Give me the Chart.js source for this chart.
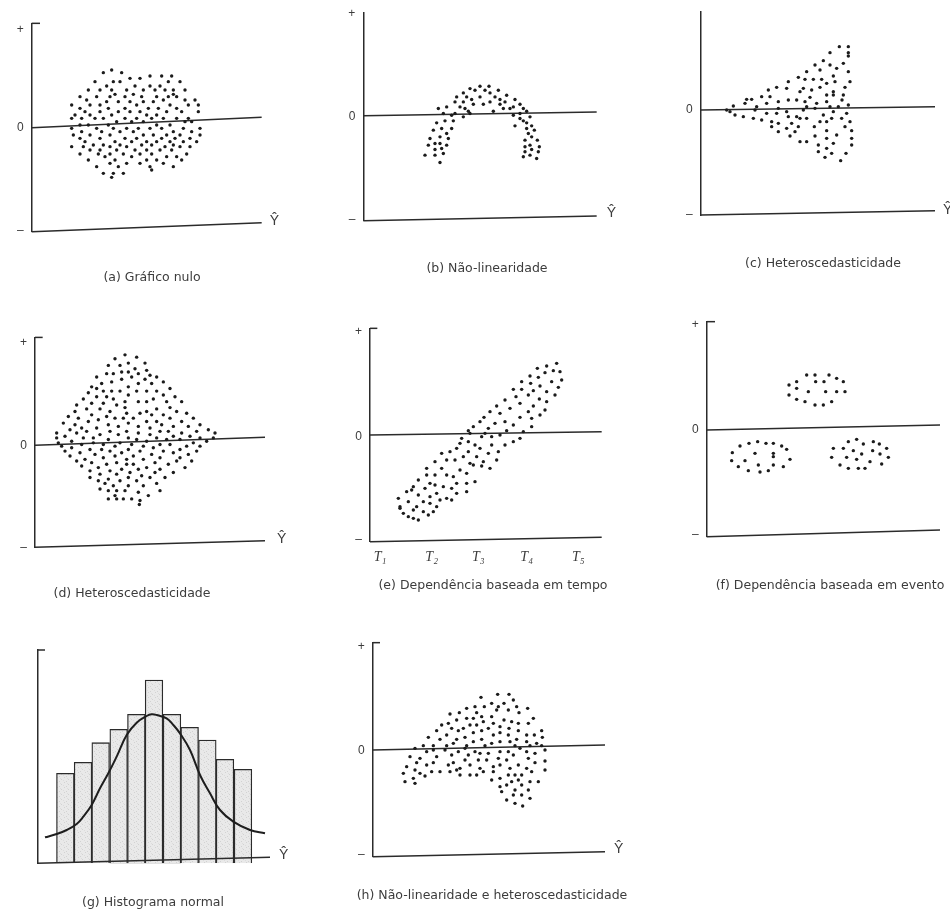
<!DOCTYPE html>
<html><head><meta charset="utf-8">
<script src="https://cdn.jsdelivr.net/npm/chart.js@4.4.0/dist/chart.umd.min.js"></script>
<style>
html,body{margin:0;padding:0;background:#fff;width:950px;height:917px;overflow:hidden;position:relative}
canvas{position:absolute}
</style></head><body>
<script>
// ---------- DATA (figure units; each row = [residual level, [Ŷ positions]]) ----------
const nullPlotRows = [
[210,[335]],[218,[310,365]],[228,[450,485,515]],[235,[390,420]],[245,[285,340,360,505,540]],
[258,[320,405,450,480]],[270,[265,300,335,380,430,465,495,520,555]],[283,[345,400,520]],
[290,[240,290,330,375,425,470,505,530]],[300,[260,490,555,585]],[305,[320,355,390,430,460]],
[315,[215,270,300,410,510,565,595]],[325,[240,325,375,445,475,530]],[335,[255,300,355,390,420,500,545,595]],
[345,[225,270,335,440,470]],[355,[215,245,285,310,375,410,455,490,530,565]],[365,[350,395,430,555,575]],
[375,[240,265,325,470,510]],[385,[215,290,340,380,415,450,485,550,600]],[395,[245,305,360,400,520,575]],
[405,[220,270,330,430,460,500,540,600]],[415,[240,300,375,410,485,525,570]],[425,[255,345,395,440,470,510,550,590]],
[435,[280,310,360,425,455,520]],[440,[215,250,330,380,495,540,570]],[450,[270,300,350,405,440,480,515]],
[462,[240,295,330,370,420,455,560]],[470,[315,395,500,530]],[480,[265,345,440,470,545]],
[490,[330,380,420,490]],[500,[290,355,450,520]],[510,[455]],[520,[310,340,370]],[532,[335]]
];
const nonLinearRows = [
[258,[540,567]],[265,[510]],[270,[525,555,595]],[278,[490,570]],[285,[620]],[290,[470,500,540,585]],
[298,[515,600,645]],[305,[465,490,570,615]],[312,[520,550,600,660]],[320,[440,480,640]],
[325,[415,495,610,630,670]],[333,[505,580,680]],[340,[430,465,510,660]],[345,[455,640]],[350,[490,690]],
[355,[660]],[362,[435,460,670]],[368,[410,680]],[377,[645,695]],[385,[425,455,680]],[390,[400,703]],
[400,[440,685]],[410,[420,695]],[415,[390,445]],[420,[675,712]],[430,[405,420]],[435,[385,440,690]],
[440,[675,718]],[445,[425]],[448,[405,695]],[455,[675,715]],[460,[430]],[465,[375,405,690]],
[470,[670]],[475,[710]],[487,[420]]
];
const fanRows = [
[140,[628,655]],[158,[600,655]],[168,[655]],[182,[580]],[190,[640]],[195,[555,600]],[205,[620]],
[210,[570]],[215,[530,655]],[228,[610]],[232,[505]],[238,[525,550,575]],[245,[475,615,660]],[250,[590]],
[262,[440,570,645]],[265,[470,520]],[270,[415,545]],[275,[510,610]],[285,[590,610,640]],[290,[395,420]],
[292,[540]],[298,[350,365]],[300,[475,500,636]],[305,[445,525,590]],[310,[345,410,560]],[315,[655]],
[318,[310]],[320,[380,530,600,625]],[325,[445,555]],[330,[290,375,520]],[335,[300,470,610]],
[340,[410,440,650]],[345,[315,580]],[350,[340,475,500]],[355,[370,510,530,605,635]],[360,[395]],
[365,[425,570,590,660]],[370,[445,485]],[380,[425,505,553,645]],[385,[470]],[392,[590,665]],
[395,[445,495]],[405,[620]],[408,[480,555]],[415,[590,665]],[425,[510,530]],[430,[610]],
[435,[565,665]],[445,[590]],[455,[565]],[460,[605,648]],[472,[585]],[482,[632]]
];
const diamondRows = [
[158,[375]],[165,[410]],[170,[345]],[183,[385,435]],[190,[325,360]],[200,[405]],[205,[440]],
[210,[365,385]],[215,[320,340,415]],[220,[450]],[225,[290,395,470]],[232,[365,435]],[240,[335,490]],
[245,[305,415,455]],[255,[275,385]],[260,[290,510]],[268,[310,335,360,410,440,470]],[273,[265]],
[280,[385,490]],[285,[290,320,525]],[292,[250,340,460]],[300,[375,415,440,500,545]],[305,[275,310]],
[310,[230,350]],[318,[375,510]],[322,[260,300,470]],[330,[225,330,440,530]],[335,[380,420,560]],
[340,[275,455,490]],[345,[205,320]],[350,[235,345,370,400,510,580]],[355,[295]],[360,[265,440,470,545]],
[365,[190,385]],[370,[225,325,485,600]],[375,[355,415,520,565]],[380,[245,290,450]],[385,[210,625]],
[390,[260,330,380,480,505,590]],[395,[170,230,415,545,645]],[400,[300,355,450]],[405,[195,520,570]],
[410,[170,250,280,385,470,600,640]],[415,[325,410,500,540]],[420,[215,440,620]],[425,[175,280,360,580]],
[430,[245,310,395,480,510]],[435,[185,345,430,560,600]],[440,[215,460]],[445,[270,305,385,540]],
[450,[195,330,420,490,590]],[455,[240,365,520]],[460,[285,455,565]],[465,[210,345,400]],
[470,[310,480,540]],[475,[255,380,430]],[480,[230,530,575]],[485,[275,350,465]],[490,[320,380,400,505]],
[495,[245]],[500,[295,440,555]],[505,[365,415,480]],[510,[270,330]],[515,[390,465,520]],[520,[300,350]],
[525,[425]],[530,[270,385,450,495]],[535,[325]],[540,[295,360,410]],[548,[315,470]],[555,[340,385,430]],
[565,[300]],[570,[325,350,375,480]],[575,[415]],[585,[345,445]],[595,[325,350,370,395]],[600,[420]],[612,[418]]
];
const timeRows = [
[190,[770]],[198,[740]],[205,[712]],[212,[760]],[215,[780]],[218,[735]],[228,[690]],[232,[715]],
[240,[785]],[245,[665,755]],[250,[692]],[258,[720]],[262,[775]],[268,[640,665]],[272,[700]],[275,[740]],
[285,[685,765]],[290,[648]],[297,[718]],[300,[615]],[305,[740]],[310,[660]],[318,[590,700]],[325,[630]],
[330,[735]],[335,[570,685]],[340,[600]],[345,[720]],[352,[552,660]],[355,[695]],[365,[540,615]],
[370,[585]],[375,[640]],[380,[520,695]],[385,[565]],[392,[505,620]],[395,[670]],[400,[510,555]],
[405,[600]],[410,[545,575]],[415,[485,660]],[425,[505,640]],[430,[480]],[435,[525,575,615]],
[445,[470,540]],[455,[450,505,595]],[460,[425,565]],[470,[490,530]],[480,[440,465,590]],[485,[405,550]],
[490,[510]],[495,[520]],[498,[545]],[505,[380,425,570]],[510,[480]],[520,[500]],[525,[380,405,440]],
[530,[460]],[540,[355]],[545,[525]],[550,[390,470,500]],[555,[405]],[560,[340,430]],[565,[375,455]],
[570,[335]],[575,[320,500]],[580,[410,470]],[585,[355]],[590,[390]],[595,[295,440]],[600,[420,455]],
[605,[325,370]],[610,[390]],[620,[300,350,410]],[625,[300]],[630,[340]],[635,[370,400]],[640,[310]],
[645,[385]],[650,[325]],[655,[340]],[660,[355]]
];
const eventRows = [
[225,[530,555,597]],[235,[620]],[245,[500,557,582,640]],[255,[477]],[265,[500]],[275,[535,587,620,645]],
[285,[477]],[298,[500]],[305,[525,605]],[315,[555,580]],
[418,[680]],[425,[383,655,730]],[430,[357,408,430]],[432,[700,748]],[438,[330,455]],[445,[610,640,770]],
[448,[470]],[452,[670,728]],[458,[307]],[460,[375,430]],[462,[695,750]],[470,[430]],[472,[605,650,775]],
[478,[480,680]],[482,[305,345]],[485,[720]],[492,[755]],[495,[385,430,630]],[500,[325,460]],
[505,[655,685,705]],[512,[355,415]],[516,[390]]
];
const mixedRows = [
[283,[593,627]],[292,[543]],[300,[640]],[310,[575,612]],[320,[525,553,595,650]],[325,[500,683]],
[330,[590,625]],[338,[478,530,657]],[342,[450]],[350,[545,575]],[355,[500,520,700]],[360,[470,612]],
[365,[550,635]],[370,[445,580,655,685]],[375,[425,510,530]],[380,[600]],[385,[455,490,565,627]],
[392,[410,475,545,655,725]],[398,[520,600]],[405,[440,580,625,680,703]],[412,[385,495,727]],
[418,[420,470,545,650]],[425,[520,600,630,680]],[430,[460,575,710]],[437,[370,400,440,500,555,645,690,725]],
[445,[345,495,660]],[450,[400,435,735]],[455,[380,475,525,600,625,680]],[460,[540,565,705]],
[465,[455,505,640]],[470,[330,410]],[475,[360,595,685]],[480,[495,535,560,620]],[483,[735]],
[488,[350,400,460,705]],[495,[380,445,510,600,655]],[500,[320,580]],[505,[480,540,630,680]],
[510,[345,470,735]],[515,[395,420,450,550,580,695]],[520,[310,360]],[525,[480,510,530,625,645,665]],
[528,[375]],[535,[340,600]],[540,[575,655]],[545,[315,635,690,715]],[550,[345]],[555,[620,665]],
[560,[600]],[570,[645,685]],[575,[605]],[585,[640,665]],[595,[690]],[600,[620]],[610,[645]],[618,[668]]
];
// histogram (g)
const binCenters = [196,249,302,356,409,462,516,569,622,675,729];
const binHeights = [270,303,362,402,447,550,447,408,370,312,282];
const curveX = [135,170,200,230,250,275,300,325,350,380,410,440,455,470,500,520,540,570,600,630,660,700,750,795];
const curveY = [78,88,100,118,140,175,225,270,320,385,422,442,447,445,435,415,390,340,265,210,160,125,100,90];
// time ticks (e)
const timeTickPos = [240,395,535,680,835];
const timeTickLabels = ['T\u2081','T\u2082','T\u2083','T\u2084','T\u2085'];
// reference lines (zero line, baseline, top tick)
const zeroA = [[95,383],[785,352]], baseA = [[95,695],[785,668]], capA = [[95,70],[120,70]];
const zeroB = [[190,347],[890,335]], baseB = [[190,662],[890,648]];
const zeroC = [[212,330],[915,320]], baseC = [[212,645],[915,632]];
const zeroD = [[105,432],[795,408]], baseD = [[105,742],[795,722]], capD = [[105,105],[128,105]];
const zeroE = [[210,405],[905,395]], baseE = [[210,725],[905,712]], capE = [[210,85],[232,85]];
const zeroF = [[230,390],[930,375]], baseF = [[230,710],[930,690]], capF = [[230,65],[255,65]];
const baseG = [[112,0],[810,18]], capG = [[112,640],[135,640]];
const zeroH = [[218,450],[915,435]], baseH = [[218,770],[915,755]], capH = [[218,128],[240,128]];

// ---------- RENDERING ----------
const FONT = "'Liberation Sans', Arial, Helvetica, sans-serif";
const CAP_FONT = "'DejaVu Sans', Verdana, sans-serif";
const INK = '#2b2b2b';
const TXT = '#3c3c3c';
const CAP_SIZE = 12.5;
function flatten(rows){const p=[];rows.forEach(([y,xs])=>xs.forEach(x=>p.push({x:x,y:y})));return p;}
function seg(a){return a.map(([x,y])=>({x:x,y:y}));}

// soft stippled grey fill like the printed histogram
function stipple(){
  const c=document.createElement('canvas'); c.width=7; c.height=5;
  const g=c.getContext('2d'); g.fillStyle='#e9e9e9'; g.fillRect(0,0,7,5);
  g.fillStyle='#d2d2d2'; g.fillRect(1,0,1,1); g.fillRect(5,2,1,1); g.fillRect(3,4,1,1);
  g.fillStyle='#dcdcdc'; g.fillRect(0,3,1,1); g.fillRect(4,1,1,1);
  return g.createPattern(c,'repeat');
}

const panels = [
 {ox:0,oy:0,xr:[95,785],yr:[70,695],rev:true,pz:[70,695],rows:nullPlotRows,lines:[zeroA,baseA,capA],
  ticks:[[88,'+'],[383,'0'],[693,'\u2013']],hat:662,hatPad:8,caption:'(a) Gráfico nulo',capX:152,capY:277},
 {ox:300,oy:0,xr:[190,890],yr:[36,662],rev:true,pz:[36,662],rows:nonLinearRows,lines:[zeroB,baseB],
  ticks:[[39,'+'],[350,'0'],[660,'\u2013']],hat:640,hatPad:10,caption:'(b) Não-linearidade',capX:487,capY:268},
 {ox:630,oy:0,xr:[212,915],yr:[36,645],rev:true,pz:[36,645],rows:fanRows,lines:[zeroC,baseC],
  ticks:[[330,'0'],[645,'\u2013']],hat:630,hatPad:8,caption:'(c) Heteroscedasticidade',capX:823,capY:263},
 {ox:0,oy:300,xr:[105,795],yr:[105,742],rev:true,pz:[105,742],rows:diamondRows,lines:[zeroD,baseD,capD],
  ticks:[[120,'+'],[433,'0'],[742,'\u2013']],hat:716,hatPad:12,caption:'(d) Heteroscedasticidade',capX:132,capY:593},
 {ox:300,oy:300,xr:[210,905],yr:[85,725],rev:true,pz:[85,725],rows:timeRows,lines:[zeroE,baseE,capE],
  ticks:[[95,'+'],[410,'0'],[720,'\u2013']],hat:null,caption:'(e) Dependência baseada em tempo',capX:493,capY:585,
  xticks:timeTickPos,xlabels:timeTickLabels},
 {ox:630,oy:300,xr:[230,930],yr:[65,710],rev:true,pz:[65,710],rows:eventRows,lines:[zeroF,baseF,capF],
  ticks:[[75,'+'],[390,'0'],[705,'\u2013']],hat:null,caption:'(f) Dependência baseada em evento',capX:830,capY:585},
 {ox:0,oy:600,xr:[112,810],yr:[0,640],rev:false,pz:[150,790],hist:true,lines:[baseG,capG],
  ticks:[],hat:25,hatPad:9,caption:'(g) Histograma normal',capX:153,capY:902},
 {ox:300,oy:600,xr:[218,915],yr:[128,770],rev:true,pz:[128,770],rows:mixedRows,lines:[zeroH,baseH,capH],
  ticks:[[140,'+'],[452,'0'],[765,'\u2013']],hat:748,hatPad:9,caption:'(h) Não-linearidade e heteroscedasticidade',capX:492,capY:895}
];

function makePanel(p){
  const S=3;
  const L=p.ox+p.xr[0]/S, R=p.ox+p.xr[1]/S, T=p.oy+p.pz[0]/S, B=p.oy+p.pz[1]/S;
  const lh=CAP_SIZE*1.2;
  const half=Math.max(p.capX-(L-34),(R+26)-p.capX,160);
  const cx=Math.round(p.capX-half), cw=Math.round(2*half);
  const cy=Math.round(T-18);
  const ch=Math.round(p.capY+lh/2+2-cy);
  const yW=L-cx, rW=cx+cw-R, padTop=T-cy;
  const xH=(cy+ch-2-lh)-B;
  const cv=document.createElement('canvas');
  cv.width=cw; cv.height=ch; cv.style.left=cx+'px'; cv.style.top=cy+'px';
  cv.style.width=cw+'px'; cv.style.height=ch+'px';
  document.body.appendChild(cv);

  const lineSets=p.lines.map(l=>({type:p.hist?'line':'scatter',data:seg(l),showLine:true,pointRadius:0,
    borderColor:INK,borderWidth:1.5,clip:false,order:1,tension:0,fill:false}));
  let datasets;
  if(p.hist){
    datasets=[
      {type:'bar',data:binCenters.map((x,i)=>({x:x,y:binHeights[i]})),backgroundColor:stipple(),
       borderColor:INK,borderWidth:1.3,barPercentage:1,categoryPercentage:1,order:3},
      {type:'line',data:curveX.map((x,i)=>({x:x,y:curveY[i]})),borderColor:'#1e1e1e',borderWidth:2,
       pointRadius:0,tension:0.4,fill:false,order:0,clip:false}
    ].concat(lineSets);
  } else {
    datasets=[{type:'scatter',data:flatten(p.rows),pointRadius:1.7,pointBackgroundColor:'#1c1c1c',
      pointBorderWidth:0,order:0}].concat(lineSets);
  }
  const tickFont={family:FONT,size:12};
  new Chart(cv,{
    type:p.hist?'bar':'scatter',
    data:{datasets:datasets},
    options:{
      responsive:false,animation:false,events:[],devicePixelRatio:1,
      layout:{padding:{top:padTop,left:0,right:0,bottom:0}},
      plugins:{legend:{display:false},tooltip:{enabled:false},
        title:{display:true,text:p.caption,position:'bottom',color:TXT,
          font:{family:CAP_FONT,size:CAP_SIZE,weight:'normal'},padding:{top:0,bottom:2}}},
      scales:{
        x:{type:'linear',position:'bottom',min:p.xr[0],max:p.xr[1],offset:false,
          afterFit:s=>{s.height=xH;},
          afterBuildTicks:s=>{s.ticks=p.xticks?p.xticks.map(v=>({value:v})):[{value:p.xr[0]}];},
          ticks:{display:!!p.xticks,autoSkip:false,maxRotation:0,padding:7,color:TXT,
            font:{family:"'Liberation Serif', 'DejaVu Serif', serif",size:14,style:'italic'},
            callback:(v,i)=>p.xlabels?p.xlabels[i]:''},
          grid:{display:false,drawTicks:false},border:{display:false}},
        y:{type:'linear',position:'left',min:p.yr[0],max:p.yr[1],reverse:p.rev,
          afterFit:s=>{s.width=yW;},
          afterBuildTicks:s=>{s.ticks=p.ticks.length?p.ticks.map(t=>({value:t[0]})):[{value:p.yr[0]}];},
          ticks:{display:p.ticks.length>0,autoSkip:false,padding:8,color:TXT,font:tickFont,
            callback:(v,i)=>p.ticks.length?p.ticks[i][1]:''},
          grid:{display:false,drawTicks:false},border:{display:true,color:INK,width:1.5}},
        yR:{type:'linear',position:'right',min:p.yr[0],max:p.yr[1],reverse:p.rev,
          afterFit:s=>{s.width=rW;},
          afterBuildTicks:s=>{s.ticks=[{value:p.hat!=null?p.hat:p.yr[0]}];},
          ticks:{display:p.hat!=null,autoSkip:false,padding:p.hatPad||8,color:TXT,
            font:{family:FONT,size:14},callback:()=>'\u0176'},
          grid:{display:false,drawTicks:false},border:{display:false}}
      }
    }
  });
}
panels.forEach(makePanel);
</script>
</body></html>
